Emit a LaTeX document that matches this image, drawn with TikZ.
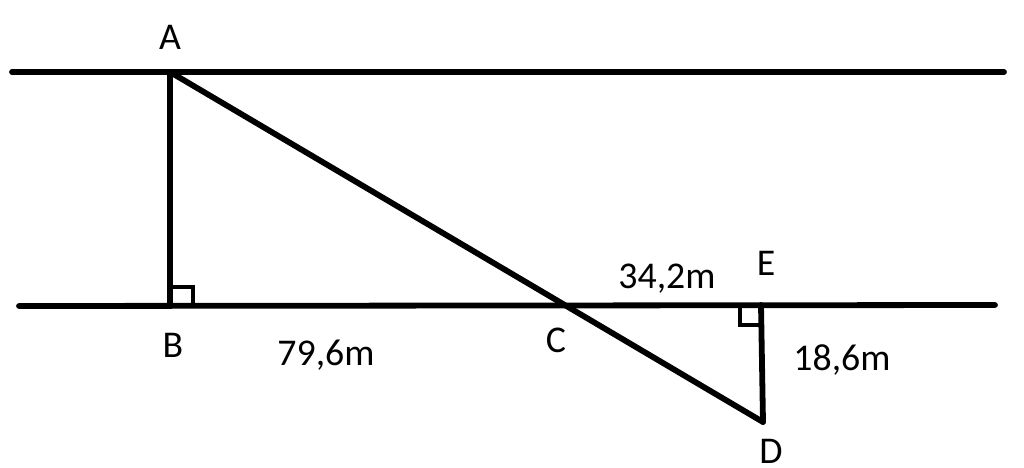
\documentclass[tikz,border=0pt]{standalone}
\usepackage{fontspec}
\setmainfont{Carlito}
\tikzset{
  line/.style={black, line width=3.3pt, line cap=round, line join=round},
  rightang/.style={black, line width=2.8pt},
  lbl/.style={font=\fontsize{21.5}{24}\selectfont, inner sep=0pt}
}
\begin{document}
\begin{tikzpicture}[x=0.02cm, y=-0.02cm]

\useasboundingbox (0,0) rectangle (1024,467);

\coordinate(A) at (170,72);
\coordinate(B) at (170,306);
\coordinate(C) at (560,306);
\coordinate(E) at (761,305);
\coordinate(D) at (763,422);

\coordinate(top1) at (12,72);
\coordinate(top2) at (1004,72);
\coordinate(bot1) at (19,306);
\coordinate(bot2) at (995,305);

\node(la)[lbl] at (170,37) {A};
\node(lb)[lbl] at (173,345) {B};
\node(lc)[lbl] at (556,340) {C};
\node(le)[lbl] at (766,263) {E};
\node(ld)[lbl] at (771,451) {D};

\node(bc)[lbl] at (326,355) {79,6m};
\node(ce)[lbl] at (667,279) {34,2m};
\node(ed)[lbl] at (842,360) {18,6m};

\draw[line] (top1) -- (top2);
\draw[line] (bot1) -- (bot2);

\draw[line] (A) -- (B);
\draw[line] (A) -- (D);
\draw[line] (E) -- (D);

\draw[rightang] (171,306) |- (193,287) -- (193,306);
\draw[rightang] (761,325) -| (740,305);

\end{tikzpicture}
\end{document}
